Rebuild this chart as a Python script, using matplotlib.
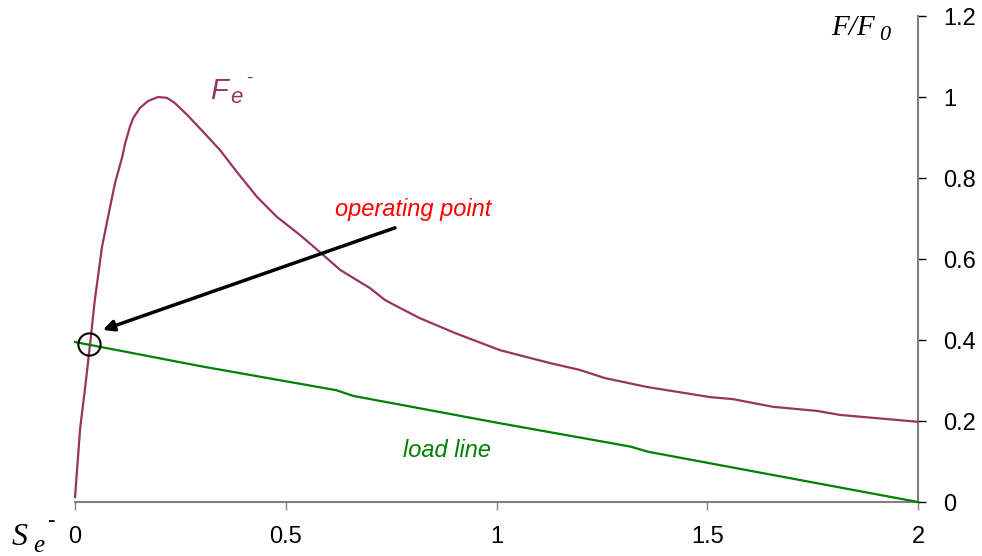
import matplotlib.pyplot as plt

plt.rcParams["font.family"] = ["Liberation Sans", "DejaVu Sans"]

# F_e^- curve
fe_x = [0, 0.012, 0.026, 0.036, 0.047, 0.064, 0.083, 0.095, 0.112, 0.119, 0.130,
        0.138, 0.154, 0.173, 0.197, 0.218, 0.237, 0.266, 0.304, 0.344, 0.384,
        0.432, 0.479, 0.534, 0.581, 0.629, 0.700, 0.735, 0.771, 0.818, 0.902,
        1.008, 1.127, 1.198, 1.257, 1.357, 1.507, 1.561, 1.656, 1.760, 1.815, 2.0]
fe_y = [0.012, 0.18, 0.30, 0.393, 0.499, 0.630, 0.728, 0.788, 0.852, 0.886, 0.926,
        0.948, 0.973, 0.990, 1.0, 0.998, 0.985, 0.956, 0.914, 0.869, 0.815,
        0.753, 0.704, 0.659, 0.617, 0.573, 0.528, 0.499, 0.479, 0.454, 0.417,
        0.375, 0.343, 0.326, 0.306, 0.284, 0.259, 0.254, 0.235, 0.225, 0.215, 0.198]

# load line
load_x = [0, 0.3, 0.62, 0.66, 1.0, 1.317, 1.36, 2.0]
load_y = [0.395, 0.335, 0.276, 0.262, 0.196, 0.137, 0.124, 0.0]

op_point = (0.033, 0.39)
arrow_tail = (0.759, 0.677)
arrow_tip = (0.066, 0.425)

x_ticks = [0, 0.5, 1, 1.5, 2]
x_labels = ["0", "0.5", "1", "1.5", "2"]
y_ticks = [0, 0.2, 0.4, 0.6, 0.8, 1, 1.2]
y_labels = ["0", "0.2", "0.4", "0.6", "0.8", "1", "1.2"]

MAGENTA = "#993366"
GREEN = "#008000"
GREY = "#808080"

fig = plt.figure(figsize=(9.82, 5.56), dpi=100)
ax = fig.add_axes([0.0764, 0.0971, 0.8585, 0.8741])

ax.plot(fe_x, fe_y, color=MAGENTA, lw=1.6, clip_on=False, zorder=3)
ax.plot(load_x, load_y, color=GREEN, lw=1.6, clip_on=False, zorder=3)
ax.plot([op_point[0]], [op_point[1]], marker="o", ms=16, mfc="none",
        mec="black", mew=1.5, zorder=4)
ax.annotate("", xy=arrow_tip, xytext=arrow_tail,
            arrowprops=dict(arrowstyle="-|>", lw=2.5, color="black",
                            mutation_scale=16, shrinkA=0, shrinkB=0))

ax.set_xlim(0, 2)
ax.set_ylim(0, 1.2)

for s in ["top", "left"]:
    ax.spines[s].set_visible(False)
for s in ["right", "bottom"]:
    ax.spines[s].set_color(GREY)
    ax.spines[s].set_linewidth(1.5)

ax.yaxis.tick_right()
ax.set_xticks(x_ticks, x_labels)
ax.set_yticks(y_ticks, y_labels)
ax.tick_params(axis="x", direction="out", length=6, width=1, color=GREY,
               labelsize=17, pad=11)
ax.tick_params(axis="y", direction="out", length=6, width=1, color="black",
               labelsize=17, pad=12)

ax.text(0.802, 0.723, "operating point", color="red", style="italic",
        fontsize=17, ha="center", va="center")
ax.text(0.883, 0.126, "load line", color=GREEN, style="italic",
        fontsize=17, ha="center", va="center")

# F_e^- label
ax.text(0.320, 0.995, "F", color=MAGENTA, style="italic", fontsize=21,
        va="baseline", ha="left")
ax.text(0.368, 0.985, "e", color=MAGENTA, style="italic", fontsize=16,
        va="baseline", ha="left")
ax.text(0.406, 1.047, "-", color=MAGENTA, fontsize=14,
        va="center", ha="left")

# axis titles outside the axes
fig.text(875 / 982, 1 - 35 / 556, "F/F", family="Liberation Serif",
         style="italic", fontsize=21, ha="right", va="baseline")
fig.text(879 / 982, 1 - 40 / 556, "0", family="Liberation Serif",
         style="italic", fontsize=16, ha="left", va="baseline")
fig.text(12 / 982, 1 - 545 / 556, "S", family="Liberation Serif",
         style="italic", fontsize=23, ha="left", va="baseline")
fig.text(33 / 982, 1 - 552 / 556, "e", family="Liberation Serif",
         style="italic", fontsize=18, ha="left", va="baseline")
fig.text(47 / 982, 1 - 522 / 556, "-", family="Liberation Serif",
         fontsize=16, ha="left", va="center")

fig.savefig("out.png", dpi=100)
